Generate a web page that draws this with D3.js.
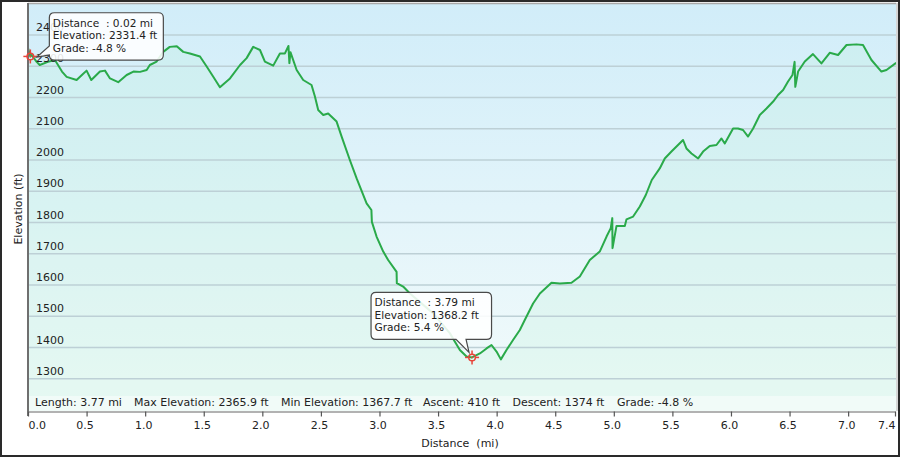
<!DOCTYPE html>
<html><head><meta charset="utf-8">
<script src="https://cdn.jsdelivr.net/npm/d3@7"></script>
<style>
html,body{margin:0;padding:0;background:#fff;}
svg{display:block;font-family:"DejaVu Sans",Verdana,sans-serif;}
text{white-space:pre;}
</style></head>
<body><svg id="c" width="900" height="457"></svg>
<script>
// ---- data ----
const distances = [0.00,0.02,0.03,0.074,0.10,0.17,0.23,0.29,0.33,0.415,0.46,0.50,0.54,0.614,0.657,0.70,0.77,0.842,0.90,0.956,1.013,1.04,1.098,1.154,1.21,1.27,1.325,1.382,1.468,1.525,1.58,1.638,1.724,1.81,1.866,1.922,1.98,2.022,2.093,2.15,2.193,2.223,2.231,2.24,2.293,2.349,2.42,2.449,2.477,2.52,2.562,2.634,2.677,2.747,2.805,2.89,2.931,2.935,2.975,3.032,3.074,3.146,3.148,3.202,3.26,3.456,3.60,3.686,3.743,3.79,3.857,3.914,3.956,3.999,4.036,4.084,4.14,4.198,4.24,4.311,4.369,4.468,4.54,4.639,4.71,4.795,4.88,4.938,4.974,4.987,4.989,5.023,5.094,5.108,5.165,5.222,5.273,5.324,5.392,5.435,5.492,5.535,5.591,5.62,5.663,5.72,5.762,5.819,5.876,5.919,5.947,6.018,6.06,6.103,6.146,6.189,6.246,6.303,6.36,6.402,6.445,6.487,6.525,6.543,6.549,6.573,6.63,6.70,6.772,6.843,6.914,6.986,7.07,7.127,7.199,7.284,7.327,7.41];
const elevations = [2358,2331.4,2336,2314,2304,2314,2320,2283,2266,2256,2272,2286,2256,2283,2286,2261,2249,2272,2283,2282,2288,2304,2315,2346,2362,2364,2346,2341,2331,2299,2267,2233,2261,2304,2326,2362,2352,2315,2302,2341,2341,2365,2310,2345,2288,2256,2240,2203,2160,2144,2149,2123,2075,2000,1941,1861,1840,1802,1755,1707,1680,1642,1606,1595,1573,1510,1446,1392,1371,1368.2,1381,1397,1408,1387,1362,1392,1424,1456,1488,1541,1573,1607,1605,1607,1627,1680,1707,1755,1782,1814,1718,1789,1789,1810,1819,1851,1888,1936,1973,2005,2027,2043,2064,2037,2021,2005,2027,2045,2048,2069,2053,2101,2101,2096,2075,2101,2144,2165,2187,2208,2224,2251,2272,2314,2234,2283,2315,2339,2309,2343,2336,2368,2370,2368,2320,2283,2288,2311];
const yTicks = [1300,1400,1500,1600,1700,1800,1900,2000,2100,2200,2300,2400];
const xTicks = [0,0.5,1.0,1.5,2.0,2.5,3.0,3.5,4.0,4.5,5.0,5.5,6.0,6.5,7.0,7.4];
const xTickLabels = ["0.0","0.5","1.0","1.5","2.0","2.5","3.0","3.5","4.0","4.5","5.0","5.5","6.0","6.5","7.0","7.4"];
const statLabels = ["Length: 3.77 mi","Max Elevation: 2365.9 ft","Min Elevation: 1367.7 ft","Ascent: 410 ft","Descent: 1374 ft","Grade: -4.8 %"];
const tipDistances = [0.02, 3.79];
const tipElevations = [2331.4, 1368.2];
const tipGrades = ["-4.8","5.4"];

// ---- layout ----
const svg = d3.select("#c");
const L = 28, R = 896, T = 3.75, B = 410;
const x = d3.scaleLinear().domain([0, 7.4]).range([L, 895]);
const y = d3.scaleLinear().domain([1200, 2500]).range([B, T]);
const pts = distances.map((d,i)=>({d, e: elevations[i]}));

const defs = svg.append("defs");
const bg = defs.append("linearGradient").attr("id","bg").attr("x1",0).attr("y1",0).attr("x2",0).attr("y2",1);
bg.append("stop").attr("offset","0%").attr("stop-color","#d1edf9");
bg.append("stop").attr("offset","100%").attr("stop-color","#f3fbfb");
defs.append("clipPath").attr("id","clip").append("rect").attr("x",L).attr("y",3).attr("width",R-L).attr("height",411-3);

// outer frame
svg.append("rect").attr("x",0).attr("y",0).attr("width",900).attr("height",457).attr("fill","#fff");
svg.append("rect").attr("x",1).attr("y",1).attr("width",898).attr("height",455).attr("fill","none").attr("stroke","#2a2a2a").attr("stroke-width",2);

// plot background
svg.append("rect").attr("x",L).attr("y",3).attr("width",R-L).attr("height",411-3).attr("fill","url(#bg)");

const g = svg.append("g").attr("clip-path","url(#clip)");
// area under curve
g.append("path").datum(pts)
  .attr("d", d3.area().x(p=>x(p.d)).y0(411).y1(p=>y(p.e)))
  .attr("fill","rgb(178,238,212)").attr("fill-opacity",0.2);

// gridlines
g.selectAll("line.grid").data(yTicks).join("line").attr("class","grid")
  .attr("x1",L).attr("x2",R).attr("y1",d=>y(d)).attr("y2",d=>y(d))
  .attr("stroke","#bdd0d6").attr("stroke-width",1.6);

// stats band
g.append("rect").attr("x",L).attr("y",396).attr("width",R-L).attr("height",15).attr("fill","#fff").attr("fill-opacity",0.45);

// y tick labels
svg.selectAll("text.yt").data(yTicks).join("text").attr("class","yt")
  .attr("x",36).attr("y",d=>y(d)-4).attr("font-size",11).attr("fill","#222").text(d=>d);

// profile line
g.append("path").datum(pts)
  .attr("d", d3.line().x(p=>x(p.d)).y(p=>y(p.e)))
  .attr("fill","none").attr("stroke","#2aaa4a").attr("stroke-width",2).attr("stroke-linejoin","round");

// borders / axes
svg.append("line").attr("x1",L).attr("x2",R).attr("y1",3.5).attr("y2",3.5).attr("stroke","#a8a8a8").attr("stroke-width",1.5);
svg.append("line").attr("x1",R+1).attr("x2",R+1).attr("y1",3).attr("y2",411).attr("stroke","#c8c8c8").attr("stroke-width",1.5);
svg.append("line").attr("x1",L).attr("x2",L).attr("y1",3).attr("y2",416).attr("stroke","#6f6f6f").attr("stroke-width",2);

// x axis via d3.axisBottom
const xa = svg.append("g").attr("transform","translate(0,411.5)")
  .call(d3.axisBottom(x).tickValues(xTicks).tickSize(5).tickSizeOuter(0).tickFormat((d,i)=>xTickLabels[i]));
xa.select(".domain").attr("stroke","#999").attr("stroke-width",1.5);
xa.selectAll(".tick line").attr("stroke","#555").attr("stroke-width",1.2);
xa.selectAll(".tick text").attr("font-family","DejaVu Sans, Verdana, sans-serif").attr("font-size",11).attr("fill","#222")
  .attr("dy",0).attr("y",17)
  .attr("text-anchor",(d,i)=> i===0 ? "start" : (i===xTicks.length-1 ? "end" : "middle"))
  .attr("dx",(d,i)=> i===0 ? 0 : (i===xTicks.length-1 ? 0 : -2));

// axis titles
svg.append("text").attr("x",460).attr("y",447).attr("text-anchor","middle").attr("font-size",11).attr("fill","#222").text("Distance  (mi)");
svg.append("text").attr("transform","translate(22,209) rotate(-90)").attr("text-anchor","middle").attr("font-size",11).attr("fill","#222").text("Elevation (ft)");

// stats text
const statX = [35,134,281,423,512.5,617];
svg.selectAll("text.st").data(statLabels).join("text").attr("class","st")
  .attr("x",(d,i)=>statX[i]).attr("y",406).attr("font-size",11).attr("fill","#222").text(d=>d);

// markers
function marker(cx, cy){
  const m = svg.append("g").attr("transform",`translate(${cx},${cy})`).attr("stroke","#e8443a").attr("stroke-width",1.5).attr("fill","none");
  m.append("circle").attr("r",3.3);
  m.append("line").attr("x1",-7).attr("x2",-3.3);
  m.append("line").attr("x1",3.3).attr("x2",7);
  m.append("line").attr("y1",-7).attr("y2",-3.3);
  m.append("line").attr("y1",3.3).attr("y2",7);
  m.append("circle").attr("r",0.9).attr("fill","#e8443a").attr("stroke","none");
}

function callout(x0,y0,w,h,r,tail,tip){
  const x1=x0+w, y1=y0+h;
  let p = `M${x0+r},${y0} H${x1-r} Q${x1},${y0} ${x1},${y0+r} V${y1-r} Q${x1},${y1} ${x1-r},${y1} `;
  if(tail.side==="bottom"){
    p += `H${tail.b} L${tip[0]},${tip[1]} L${tail.a},${y1} `;
  }
  p += `H${x0+r} Q${x0},${y1} ${x0},${y1-r} `;
  if(tail.side==="left"){
    p += `V${tail.b} L${tip[0]},${tip[1]} L${x0},${tail.a} `;
  }
  p += `V${y0+r} Q${x0},${y0} ${x0+r},${y0} Z`;
  return p;
}

const tipLayouts = [
  {dx:19, dy:-43.7, w:114, h:47.3, tail:{side:"left"}, tipOff:[6.5,0.6]},
  {dx:-101, dy:-65, w:120.5, h:47, tail:{side:"bottom"}, tipOff:[-3,-5]}
];
tipDistances.forEach((d,i)=>{
  const mx = x(d), my = y(tipElevations[i]);
  const lay = tipLayouts[i];
  const x0 = mx+lay.dx, y0 = my+lay.dy;
  const tail = Object.assign({}, lay.tail);
  if(tail.side==="left"){ tail.a = y0+lay.h-14; tail.b = y0+lay.h-5; }
  else { tail.a = x0+85; tail.b = x0+95; }
  marker(mx,my);
  svg.append("path").attr("d",callout(x0,y0,lay.w,lay.h,5,tail,[mx+lay.tipOff[0],my+lay.tipOff[1]]))
    .attr("fill","#fff").attr("fill-opacity",0.88).attr("stroke","#4a4a4a").attr("stroke-width",1.2);
  const lines = [`Distance  : ${d.toFixed(2)} mi`, `Elevation: ${tipElevations[i].toFixed(1)} ft`, `Grade: ${tipGrades[i]} %`];
  svg.selectAll(null).data(lines).join("text").attr("x",x0+3.5).attr("y",(t,j)=>y0+14+j*12.4)
    .attr("font-size",10.6).attr("fill","#222").text(t=>t);
});
</script></body></html>
